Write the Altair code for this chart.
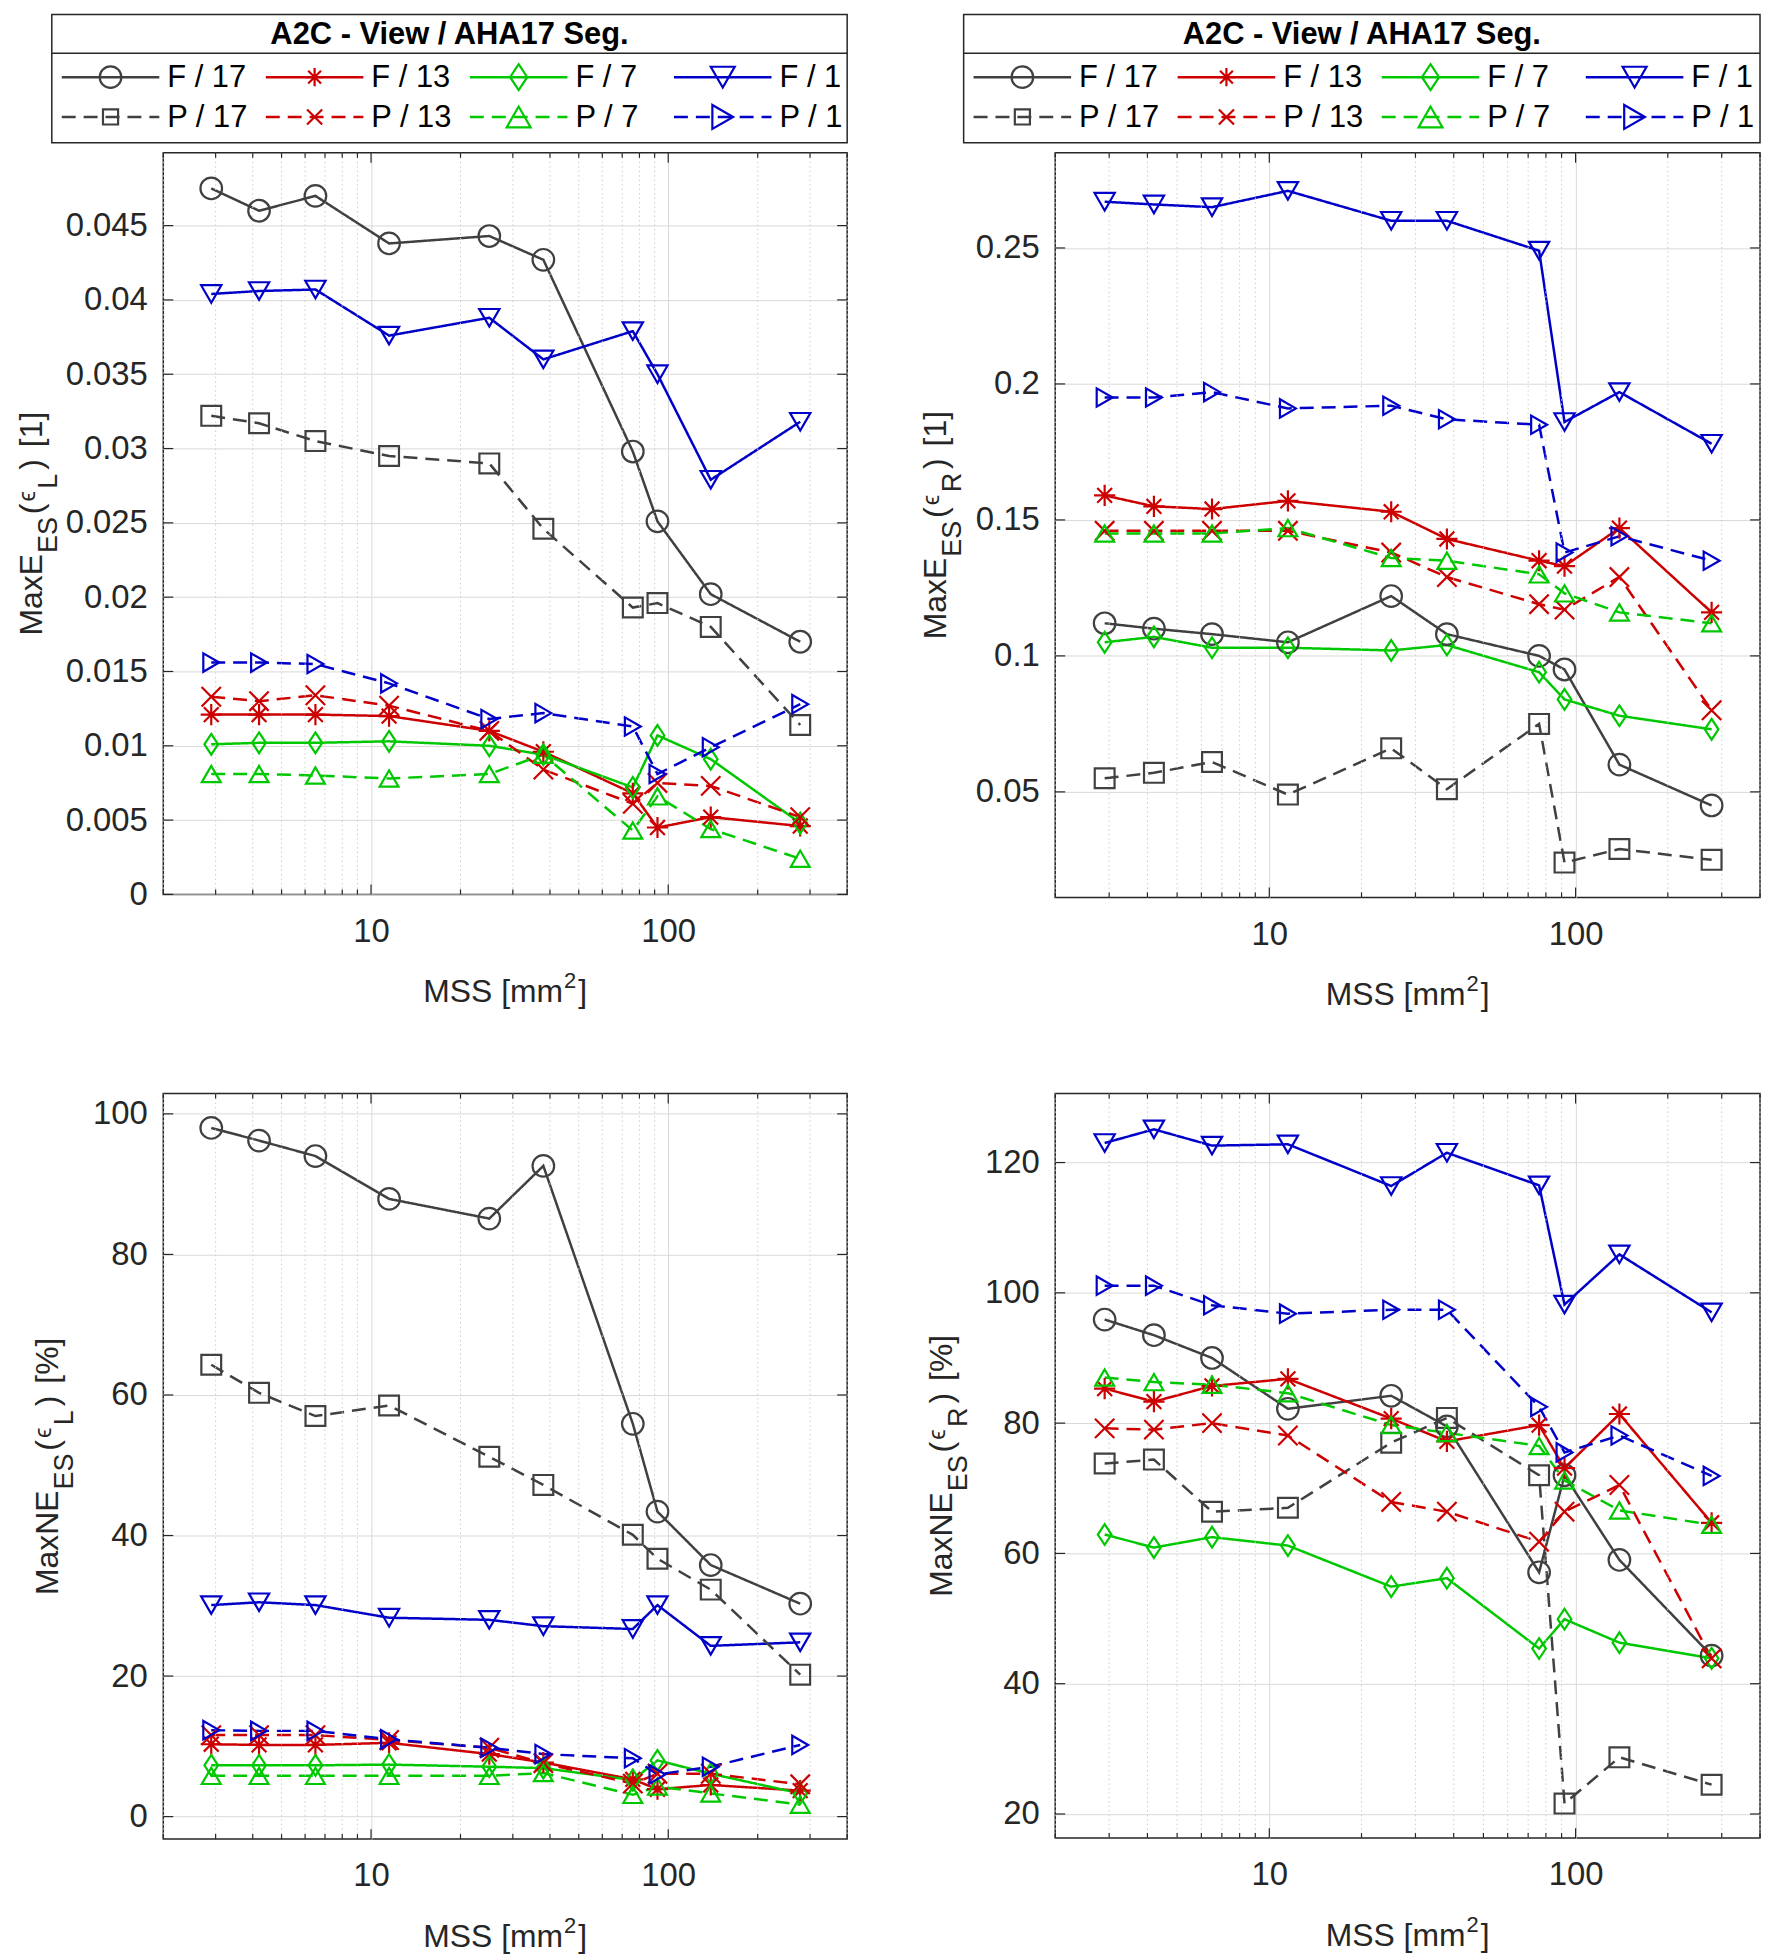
import altair as alt
import pandas as pd

# ---------------- data ----------------
MSS = [2.9, 4.2, 6.5, 11.5, 25, 38, 76, 92, 139, 278]
SERIES = ["F / 17", "F / 13", "F / 7", "F / 1", "P / 17", "P / 13", "P / 7", "P / 1"]

MAXE_L = {
    "F / 17": [0.0475, 0.0460, 0.0470, 0.0438, 0.0443, 0.0427, 0.0298, 0.0251, 0.0202, 0.0170],
    "F / 13": [0.0121, 0.0121, 0.0121, 0.0120, 0.0110, 0.0096, 0.0068, 0.0045, 0.0052, 0.0046],
    "F / 7":  [0.0101, 0.0102, 0.0102, 0.0103, 0.0100, 0.0094, 0.0072, 0.0107, 0.0091, 0.0048],
    "F / 1":  [0.0404, 0.0406, 0.0407, 0.0376, 0.0388, 0.0360, 0.0379, 0.0350, 0.0279, 0.0318],
    "P / 17": [0.0322, 0.0317, 0.0305, 0.0295, 0.0290, 0.0246, 0.0193, 0.0196, 0.0180, 0.0114],
    "P / 13": [0.0133, 0.0130, 0.0134, 0.0127, 0.0110, 0.0084, 0.0061, 0.0075, 0.0073, 0.0052],
    "P / 7":  [0.0081, 0.0081, 0.0080, 0.0078, 0.0081, 0.0094, 0.0043, 0.0066, 0.0044, 0.0024],
    "P / 1":  [0.0156, 0.0156, 0.0155, 0.0142, 0.0118, 0.0122, 0.0113, 0.0081, 0.0099, 0.0128],
}
MAXE_R = {
    "F / 17": [0.112, 0.110, 0.108, 0.105, 0.122, 0.108, 0.100, 0.095, 0.060, 0.045],
    "F / 13": [0.159, 0.155, 0.154, 0.157, 0.153, 0.143, 0.135, 0.133, 0.147, 0.116],
    "F / 7":  [0.105, 0.107, 0.103, 0.103, 0.102, 0.104, 0.094, 0.084, 0.078, 0.073],
    "F / 1":  [0.267, 0.266, 0.265, 0.271, 0.260, 0.260, 0.249, 0.186, 0.197, 0.178],
    "P / 17": [0.055, 0.057, 0.061, 0.049, 0.066, 0.051, 0.075, 0.024, 0.029, 0.025],
    "P / 13": [0.146, 0.146, 0.146, 0.146, 0.138, 0.129, 0.119, 0.117, 0.129, 0.080],
    "P / 7":  [0.145, 0.145, 0.145, 0.147, 0.136, 0.135, 0.130, 0.123, 0.116, 0.112],
    "P / 1":  [0.195, 0.195, 0.197, 0.191, 0.192, 0.187, 0.185, 0.138, 0.144, 0.135],
}
MAXNE_L = {
    "F / 17": [98.0, 96.2, 94.0, 87.9, 85.1, 92.6, 55.9, 43.4, 35.8, 30.3],
    "F / 13": [10.3, 10.2, 10.2, 10.5, 8.9, 7.7, 5.3, 3.9, 4.5, 3.7],
    "F / 7":  [7.3, 7.3, 7.3, 7.4, 7.1, 6.9, 5.2, 8.0, 6.1, 3.3],
    "F / 1":  [30.1, 30.5, 30.1, 28.3, 28.0, 27.1, 26.7, 30.1, 24.3, 24.8],
    "P / 17": [64.3, 60.3, 57.0, 58.5, 51.2, 47.2, 40.1, 36.7, 32.3, 20.2],
    "P / 13": [11.6, 11.6, 11.6, 10.9, 9.8, 7.6, 4.7, 6.1, 6.1, 4.6],
    "P / 7":  [5.8, 5.8, 5.8, 5.8, 5.8, 6.2, 3.1, 4.3, 3.3, 1.7],
    "P / 1":  [12.3, 12.2, 12.2, 11.0, 9.8, 8.9, 8.3, 6.0, 7.1, 10.2],
}
MAXNE_R = {
    "F / 17": [95.9, 93.5, 90.0, 82.2, 84.2, 79.5, 57.1, 72.0, 59.0, 44.3],
    "F / 13": [85.3, 83.3, 85.7, 86.8, 80.7, 77.2, 79.7, 73.1, 81.4, 64.7],
    "F / 7":  [62.9, 60.9, 62.5, 61.2, 54.9, 56.2, 45.4, 49.9, 46.3, 43.9],
    "F / 1":  [123.0, 125.1, 122.6, 122.8, 116.4, 121.5, 116.5, 98.2, 105.9, 97.0],
    "P / 17": [73.8, 74.4, 66.4, 67.0, 77.0, 80.8, 72.0, 21.6, 28.7, 24.5],
    "P / 13": [79.2, 79.0, 80.0, 78.1, 67.9, 66.4, 61.8, 66.4, 70.5, 43.9],
    "P / 7":  [87.0, 86.3, 85.9, 84.6, 79.7, 78.5, 76.5, 71.2, 66.6, 64.4],
    "P / 1":  [101.1, 101.1, 98.1, 96.8, 97.4, 97.4, 82.5, 75.5, 78.1, 71.9],
}

X_MAJOR = [10, 100]
X_MINOR = [2, 3, 4, 5, 6, 7, 8, 9, 20, 30, 40, 50, 60, 70, 80, 90, 200, 300, 400]
YT_TL = [0, 0.005, 0.01, 0.015, 0.02, 0.025, 0.03, 0.035, 0.04, 0.045]
YT_TR = [0.05, 0.1, 0.15, 0.2, 0.25]
YT_BL = [0, 20, 40, 60, 80, 100]
YT_BR = [20, 40, 60, 80, 100, 120]
LEGEND_TITLE = "A2C - View / AHA17 Seg."

# ---------------- style ----------------
FONT = "Liberation Sans, Arial, Helvetica, sans-serif"
INK = "#262626"
GRID = "#d9d9d9"
COLORS = ["#404040", "#cc0000", "#00c800", "#0000c8"] * 2
DASHES = [[1, 0]] * 4 + [[14, 8]] * 4
ASTER = "M0,-1L0,1M-1,0L1,0M-0.7,-0.7L0.7,0.7M-0.7,0.7L0.7,-0.7"
XMARK = "M-1,-1L1,1M-1,1L1,-1"
DIAM = "M0,-1L0.66,0L0,1L-0.66,0Z"
SHAPES = ["circle", ASTER, DIAM, "triangle-down", "square", XMARK, "triangle-up", "triangle-right"]
SIZES = [470, 340, 680, 580, 230, 230, 580, 580]
LW = 2.5
MW = 2.2
TICKFS = 33

CW = {"M": .833, "a": .556, "x": .5, "E": .667, "N": .722, "S": .667, "(": .333, ")": .333,
      " ": .278, "[": .278, "]": .278, "1": .556, "2": .556, "%": .889, "L": .556, "R": .722,
      "m": .833, "\u03f5": .5}
FS = {"m": 32, "s": 27, "e": 24}
ONE = pd.DataFrame({"k": [0]})


def twidth(t, size):
    return sum(CW.get(c, 0.55) for c in t) * size


def ytitle_layers(pieces, base, H):
    off = {"m": 0, "s": 15, "e": -7}
    widths = [twidth(t, FS[k]) for t, k, g in pieces]
    total = sum(widths) + sum(g for _, _, g in pieces)
    pos = H / 2 + total / 2
    out = []
    for (t, k, g), w in zip(pieces, widths):
        pos -= g
        out.append(alt.Chart(ONE).mark_text(angle=270, align="left", baseline="alphabetic",
                                            font=FONT, fontSize=FS[k], color=INK).encode(
            x=alt.value(base + off[k]), y=alt.value(pos), text=alt.value(t)))
        pos -= w
    return out


def xtitle_layers(W, H):
    pieces = [("MSS [mm", 32, 0, 0), ("2", 22, 1, -14), ("]", 32, 2, 0)]
    widths = [twidth(t, s) for t, s, g, d in pieces]
    total = sum(widths) + sum(p[2] for p in pieces)
    pos = W / 2 - total / 2
    out = []
    for (t, s, g, d), w in zip(pieces, widths):
        pos += g
        out.append(alt.Chart(ONE).mark_text(align="left", baseline="alphabetic",
                                            font=FONT, fontSize=s, color=INK).encode(
            x=alt.value(pos), y=alt.value(H + 108 + d), text=alt.value(t)))
        pos += w
    return out


def legend_layers(left, W):
    top, div, bot = -139, -100, -10
    out = [
        alt.Chart(ONE).mark_rect(fillOpacity=0, stroke=INK, strokeWidth=1.5).encode(
            x=alt.value(left), x2=alt.value(W), y=alt.value(top), y2=alt.value(bot)),
        alt.Chart(ONE).mark_rule(color=INK, strokeWidth=1.5).encode(
            x=alt.value(left), x2=alt.value(W), y=alt.value(div)),
        alt.Chart(ONE).mark_text(font=FONT, fontWeight="bold", fontSize=31, color="black",
                                 baseline="middle", align="center").encode(
            x=alt.value((left + W) / 2), y=alt.value((top + div) / 2 + 1),
            text=alt.value(LEGEND_TITLE)),
    ]
    for i, s in enumerate(SERIES):
        r, c = divmod(i, 4)
        x0 = left + 10 + c * 205
        yy = -76 + r * 40
        out.append(alt.Chart(ONE).mark_rule(strokeWidth=LW, color=COLORS[i],
                                            strokeDash=DASHES[i]).encode(
            x=alt.value(x0), x2=alt.value(x0 + 98), y=alt.value(yy)))
        out.append(alt.Chart(ONE).mark_point(filled=False, strokeWidth=MW, opacity=1,
                                             color=COLORS[i], shape=SHAPES[i],
                                             size=SIZES[i]).encode(
            x=alt.value(x0 + 49), y=alt.value(yy)))
        out.append(alt.Chart(ONE).mark_text(font=FONT, fontSize=31, color="black",
                                            align="left", baseline="middle").encode(
            x=alt.value(x0 + 106), y=alt.value(yy + 1), text=alt.value(s)))
    return out


def panel(values, ydom, yticks, W, H, pieces, base, legend_left=None, spacer=None):
    rows = []
    for s in SERIES:
        for m, v in zip(MSS, values[s]):
            rows.append({"series": s, "mss": m, "val": v})
    df = pd.DataFrame(rows)

    xs = alt.Scale(type="log", domain=[2, 400], nice=False)
    ys = alt.Scale(domain=ydom, nice=False, zero=False)
    color = alt.Color("series:N", scale=alt.Scale(domain=SERIES, range=COLORS), legend=None)
    dash = alt.StrokeDash("series:N", scale=alt.Scale(domain=SERIES, range=DASHES), legend=None)
    shape = alt.Shape("series:N", scale=alt.Scale(domain=SERIES, range=SHAPES), legend=None)
    size = alt.Size("series:N", scale=alt.Scale(domain=SERIES, range=SIZES), legend=None)

    xaxis = alt.Axis(values=X_MAJOR, format="d", title=None, grid=True, ticks=False,
                     domain=False, labelPadding=21, gridColor=GRID,
                     labelFlush=False, labelOverlap=False)
    yaxis = alt.Axis(values=yticks, format=".4~f", title=None, grid=True, ticks=False,
                     domain=False, labelPadding=16, gridColor=GRID, labelOverlap=False)

    layers = []
    layers.append(alt.Chart(df).mark_line(strokeWidth=LW).encode(
        x=alt.X("mss:Q", scale=xs, axis=xaxis),
        y=alt.Y("val:Q", scale=ys, axis=yaxis),
        color=color, strokeDash=dash))
    layers.append(alt.Chart(pd.DataFrame({"mss": X_MINOR})).mark_rule(
        color="#cdcdcd", strokeDash=[1.5, 3], strokeWidth=1).encode(
        x=alt.X("mss:Q"), y=alt.value(0), y2=alt.value(H)))
    layers.append(alt.Chart(df).mark_point(filled=False, strokeWidth=MW, opacity=1).encode(
        x=alt.X("mss:Q"), y=alt.Y("val:Q"),
        color=color, shape=shape, size=size))
    for vals, ln in ((X_MAJOR, 10), (X_MINOR, 5)):
        tdf = pd.DataFrame({"mss": vals})
        layers.append(alt.Chart(tdf).mark_rule(color=INK, strokeWidth=1.2).encode(
            x=alt.X("mss:Q"), y=alt.value(H), y2=alt.value(H - ln)))
        layers.append(alt.Chart(tdf).mark_rule(color=INK, strokeWidth=1.2).encode(
            x=alt.X("mss:Q"), y=alt.value(0), y2=alt.value(ln)))
    ydf = pd.DataFrame({"val": yticks})
    layers.append(alt.Chart(ydf).mark_rule(color=INK, strokeWidth=1.2).encode(
        y=alt.Y("val:Q"), x=alt.value(0), x2=alt.value(10)))
    layers.append(alt.Chart(ydf).mark_rule(color=INK, strokeWidth=1.2).encode(
        y=alt.Y("val:Q"), x=alt.value(W), x2=alt.value(W - 10)))
    layers += ytitle_layers(pieces, base, H)
    layers += xtitle_layers(W, H)
    if spacer is not None:
        layers.append(alt.Chart(ONE).mark_rule(strokeOpacity=0, color="white").encode(
            x=alt.value(spacer), y=alt.value(H / 2), y2=alt.value(H / 2 + 1)))
    if legend_left is not None:
        layers += legend_layers(legend_left, W)

    return alt.layer(*layers).properties(width=W, height=H)


def ypieces(head, sub, unit):
    return [(head, "m", 0), ("ES", "s", 1), ("(", "m", 3), ("\u03f5", "e", 2),
            (sub, "s", 1), (")", "m", 4), (unit, "m", 12)]


tl = panel(MAXE_L, [0, 0.0499], YT_TL, 687, 745, ypieces("MaxE", "L", "[1]"), -122,
           legend_left=-112, spacer=-155)
tr = panel(MAXE_R, [0.0112, 0.285], YT_TR, 708, 748, ypieces("MaxE", "R", "[1]"), -110,
           legend_left=-92)
bl = panel(MAXNE_L, [-3.2, 102.9], YT_BL, 687, 749, ypieces("MaxNE", "L", "[%]"), -106)
br = panel(MAXNE_R, [16.3, 130.6], YT_BR, 708, 748, ypieces("MaxNE", "R", "[%]"), -104)

chart = alt.concat(tl, tr, bl, br, columns=2, align="each",
                   spacing={"row": 80, "column": 70},
                   padding={"left": 0, "top": 0, "right": 0, "bottom": 0}).configure_view(
    stroke=INK, strokeWidth=1.5).configure_axis(
    labelFont=FONT, titleFont=FONT, labelFontSize=TICKFS, titleFontSize=TICKFS,
    labelColor=INK, titleColor=INK, titleFontWeight="normal")

chart.save("out.html", embed_options={"renderer": "svg", "actions": False})
